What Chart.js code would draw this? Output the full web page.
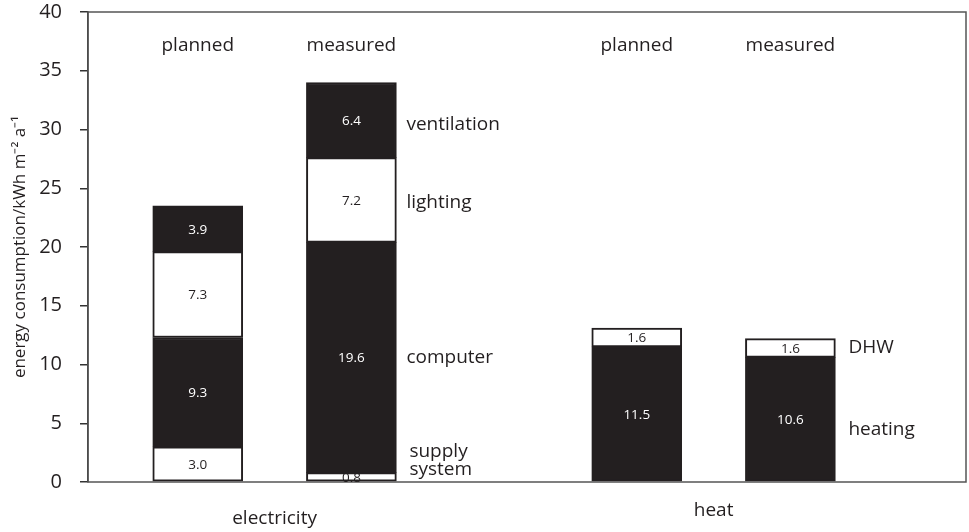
<!DOCTYPE html>
<html>
<head>
<meta charset="utf-8">
<script src="https://cdn.jsdelivr.net/npm/chart.js@4.4.1/dist/chart.umd.min.js"></script>
<style>
  html, body { margin: 0; padding: 0; background: #fff; }
  #wrap { width: 969px; height: 532px; }
</style>
</head>
<body>
<div id="wrap"><canvas id="energyChart"></canvas></div>
<script>
// values (kWh m-2 a-1)
const groups = ['electricity', 'heat'];
const columns = ['planned', 'measured', 'planned', 'measured'];
const slots = [1.25, 3, 6.25, 8]; // place of each column on the x axis
const layer1 = [3.0, 0.8, 11.5, 10.6];   // supply system / heating
const layer2 = [9.3, 19.6, 1.6, 1.6];    // computer / DHW
const layer3 = [7.3, 7.2, null, null];   // lighting
const layer4 = [3.9, 6.4, null, null];   // ventilation
const yTicks = [0, 5, 10, 15, 20, 25, 30, 35, 40];

const DARK = '#231f20';
const WHITE = '#ffffff';
const FONT = "'Open Sans', sans-serif";

const mk = (vals, colors) => ({
  data: vals.map((v, i) => ({ x: slots[i], y: v })),
  backgroundColor: colors,
  borderColor: DARK,
  borderWidth: 2,
  borderSkipped: false,
  barThickness: 90
});

const datasets = [
  mk(layer1, [WHITE, WHITE, DARK, DARK]),
  mk(layer2, [DARK, DARK, WHITE, WHITE]),
  mk(layer3, [WHITE, WHITE, WHITE, WHITE]),
  mk(layer4, [DARK, DARK, DARK, DARK])
];

const annotate = {
  id: 'annotate',
  afterDraw(chart) {
    const ctx = chart.ctx;
    const a = chart.chartArea;
    const xs = chart.scales.x, ys = chart.scales.y;
    ctx.save();

    // frame
    ctx.strokeStyle = '#555';
    ctx.lineWidth = 1.5;
    ctx.strokeRect(a.left, a.top, a.right - a.left, a.bottom - a.top);

    // values inside segments
    ctx.textAlign = 'center';
    ctx.textBaseline = 'middle';
    ctx.font = '13.5px ' + FONT;
    chart.data.datasets.forEach((ds, di) => {
      const meta = chart.getDatasetMeta(di);
      meta.data.forEach((bar, i) => {
        const v = ds.data[i].y;
        if (v == null) return;
        const cy = (bar.y + bar.base) / 2;
        ctx.fillStyle = ds.backgroundColor[i] === DARK ? WHITE : DARK;
        ctx.fillText(v.toFixed(1), bar.x, cy + 1);
      });
    });

    // column headers
    ctx.font = '19px ' + FONT;
    ctx.fillStyle = DARK;
    columns.forEach((c, i) => {
      ctx.fillText(c, xs.getPixelForValue(slots[i]), 46);
    });

    // group names under the axis
    groups.forEach((g, gi) => {
      const x = (xs.getPixelForValue(slots[gi * 2]) + xs.getPixelForValue(slots[gi * 2 + 1])) / 2;
      ctx.fillText(g, x, gi === 0 ? 519 : 511);
    });

    // component names beside measured columns
    ctx.textAlign = 'left';
    const seg = (lo, hi) => ys.getPixelForValue((lo + hi) / 2);
    const eRight = xs.getPixelForValue(slots[1]) + 55;
    const hRight = xs.getPixelForValue(slots[3]) + 55;
    let base = layer1[1] + layer2[1] + layer3[1];
    ctx.fillText('ventilation', eRight, seg(base, base + layer4[1]) + 4);
    base = layer1[1] + layer2[1];
    ctx.fillText('lighting', eRight, seg(base, base + layer3[1]) + 3);
    ctx.fillText('computer', eRight, seg(layer1[1], layer1[1] + layer2[1]));
    const sy = ys.getPixelForValue(0);
    ctx.fillText('supply', eRight + 3, sy - 30);
    ctx.fillText('system', eRight + 3, sy - 12);
    ctx.fillText('DHW', hRight + 3, seg(layer1[3], layer1[3] + layer2[3]));
    ctx.fillText('heating', hRight + 3, seg(0, layer1[3]) + 10);

    ctx.restore();
  }
};

new Chart(document.getElementById('energyChart'), {
  type: 'bar',
  data: { datasets },
  options: {
    responsive: true,
    maintainAspectRatio: false,
    animation: false,
    layout: { padding: { top: 12, right: 3, bottom: 50, left: 0 } },
    plugins: { legend: { display: false }, tooltip: { enabled: false } },
    scales: {
      x: {
        type: 'linear',
        min: 0,
        max: 10,
        offset: false,
        stacked: true,
        display: false
      },
      y: {
        stacked: true,
        min: 0,
        max: 40,
        afterBuildTicks: (s) => { s.ticks = yTicks.map(v => ({ value: v })); },
        afterFit: (s) => {
          s.width = 88;
          s.paddingTop = 12;
          s.paddingBottom = 12;
        },
        border: { color: '#333', width: 1.5 },
        grid: { drawOnChartArea: false, drawTicks: true, tickLength: 8, color: '#333', lineWidth: 1.5 },
        ticks: { color: DARK, padding: 18, font: { family: FONT, size: 20 } },
        title: {
          display: true,
          text: 'energy consumption/kWh m\u207B\u00B2 a\u207B\u00B9',
          color: DARK,
          padding: { top: 10, bottom: 0 },
          font: { family: FONT, size: 17 }
        }
      }
    }
  },
  plugins: [annotate]
});
</script>
</body>
</html>
